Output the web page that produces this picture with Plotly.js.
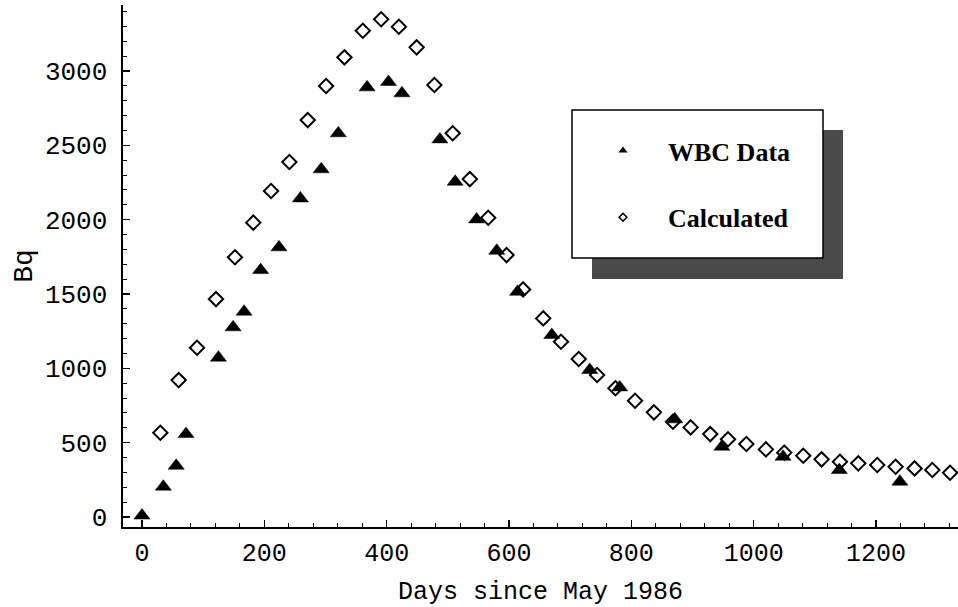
<!DOCTYPE html>
<html>
<head>
<meta charset="utf-8">
<script src="https://cdn.plot.ly/plotly-3.0.1.min.js"></script>
<style>html,body{margin:0;padding:0;background:#fff;}#chart{width:958px;height:607px;}</style>
</head>
<body>
<div id="chart"></div>
<script>
// WBC measured data
const wbcDays = [0, 35, 56, 72, 125, 149, 167, 194, 224, 259, 293, 321, 368, 403, 425, 487, 512, 547, 580, 614, 670, 732, 781, 871, 948, 1048, 1140, 1239];
const wbcBq   = [10, 204, 345, 558, 1072, 1276, 1381, 1661, 1814, 2143, 2339, 2581, 2890, 2926, 2850, 2540, 2255, 2002, 1791, 1515, 1224, 989, 872, 657, 473, 406, 316, 238];

// Calculated values
const calcDays = [30, 60, 90, 121, 152, 182, 211, 241, 271, 301, 331, 361, 391, 420, 449, 478, 508, 536, 566, 596, 623, 656, 685, 714, 744, 774, 806, 837, 868, 897, 929, 958, 988, 1020, 1050, 1081, 1111, 1141, 1171, 1202, 1232, 1263, 1292, 1321];
const calcBq   = [567, 921, 1139, 1466, 1747, 1980, 2193, 2388, 2670, 2899, 3092, 3271, 3348, 3298, 3159, 2906, 2581, 2273, 2013, 1762, 1531, 1336, 1179, 1063, 955, 866, 782, 704, 641, 603, 558, 523, 491, 455, 433, 412, 388, 372, 361, 350, 338, 327, 316, 298];

const seriesNames = ["WBC Data", "Calculated"];
const xTitle = "Days since May 1986";
const yTitle = "Bq";

const mono = "'Liberation Mono', 'Courier New', monospace";

const traces = [
  {x: calcDays, y: calcBq, type: "scatter", mode: "markers", showlegend: false, cliponaxis: false,
   marker: {symbol: "diamond-open", size: 11, color: "#000", line: {width: 2, color: "#000"}}},
  {x: wbcDays, y: wbcBq, type: "scatter", mode: "markers", showlegend: false, cliponaxis: false,
   marker: {symbol: "triangle-up", size: 14, color: "#000", line: {width: 0.5, color: "#000"}}},
  // legend-only entries (no points)
  {x: [null], y: [null], type: "scatter", mode: "markers", name: seriesNames[0], legendgroup: "a",
   marker: {symbol: "triangle-up", size: 8, color: "#000"}},
  {x: [null], y: [null], type: "scatter", mode: "markers", name: seriesNames[1], legendgroup: "b",
   marker: {symbol: "diamond-open", size: 6, color: "#000", line: {width: 1.5, color: "#000"}}}
];

// paper-coordinate helpers for legend frame (plot area px: x 123..958, y 5..527)
const px = v => (v - 123) / 835;
const py = v => (527 - v) / 522;

const layout = {
  width: 958, height: 607,
  margin: {l: 123, r: 0, t: 5, b: 80},
  paper_bgcolor: "#fff", plot_bgcolor: "#fff",
  showlegend: true,
  font: {family: mono, color: "#000"},
  xaxis: {
    range: [-31, 1334], showgrid: false, zeroline: false,
    showline: true, linecolor: "#000", linewidth: 2,
    ticks: "inside", ticklen: 7, tickwidth: 1.5, tickcolor: "#000",
    tick0: 0, dtick: 200,
    minor: {ticks: "inside", dtick: 40, ticklen: 4, tickwidth: 1, tickcolor: "#000", showgrid: false},
    tickfont: {family: mono, size: 25, color: "#000"},
    ticklabelstandoff: 2,
    title: {text: xTitle, font: {family: mono, size: 25, color: "#000"}, standoff: 14}
  },
  yaxis: {
    range: [-67, 3444], showgrid: false, zeroline: false,
    showline: true, linecolor: "#000", linewidth: 2.5,
    ticks: "inside", ticklen: 7, tickwidth: 1.5, tickcolor: "#000",
    tick0: 0, dtick: 500,
    minor: {ticks: "inside", dtick: 100, ticklen: 4, tickwidth: 1, tickcolor: "#000", showgrid: false},
    tickfont: {family: mono, size: 26, color: "#000"},
    ticklabelstandoff: 8,
    title: {text: yTitle, font: {family: mono, size: 28, color: "#000"}, standoff: 4}
  },
  legend: {
    x: px(578), xanchor: "left", y: py(127), yanchor: "top",
    bgcolor: "rgba(0,0,0,0)", borderwidth: 0,
    itemwidth: 80, tracegroupgap: 30,
    font: {family: "'Liberation Serif', 'Times New Roman', serif", size: 26, color: "#000", weight: "bold"}
  },
  shapes: [
    {type: "rect", xref: "paper", yref: "paper", x0: px(592), x1: px(843), y0: py(130), y1: py(279),
     fillcolor: "#4a4a4a", line: {width: 0}, layer: "above"},
    {type: "rect", xref: "paper", yref: "paper", x0: px(572), x1: px(823), y0: py(110), y1: py(258),
     fillcolor: "#fff", line: {width: 1.5, color: "#000"}, layer: "above"}
  ]
};

Plotly.newPlot("chart", traces, layout, {displayModeBar: false, staticPlot: true});
</script>
</body>
</html>
